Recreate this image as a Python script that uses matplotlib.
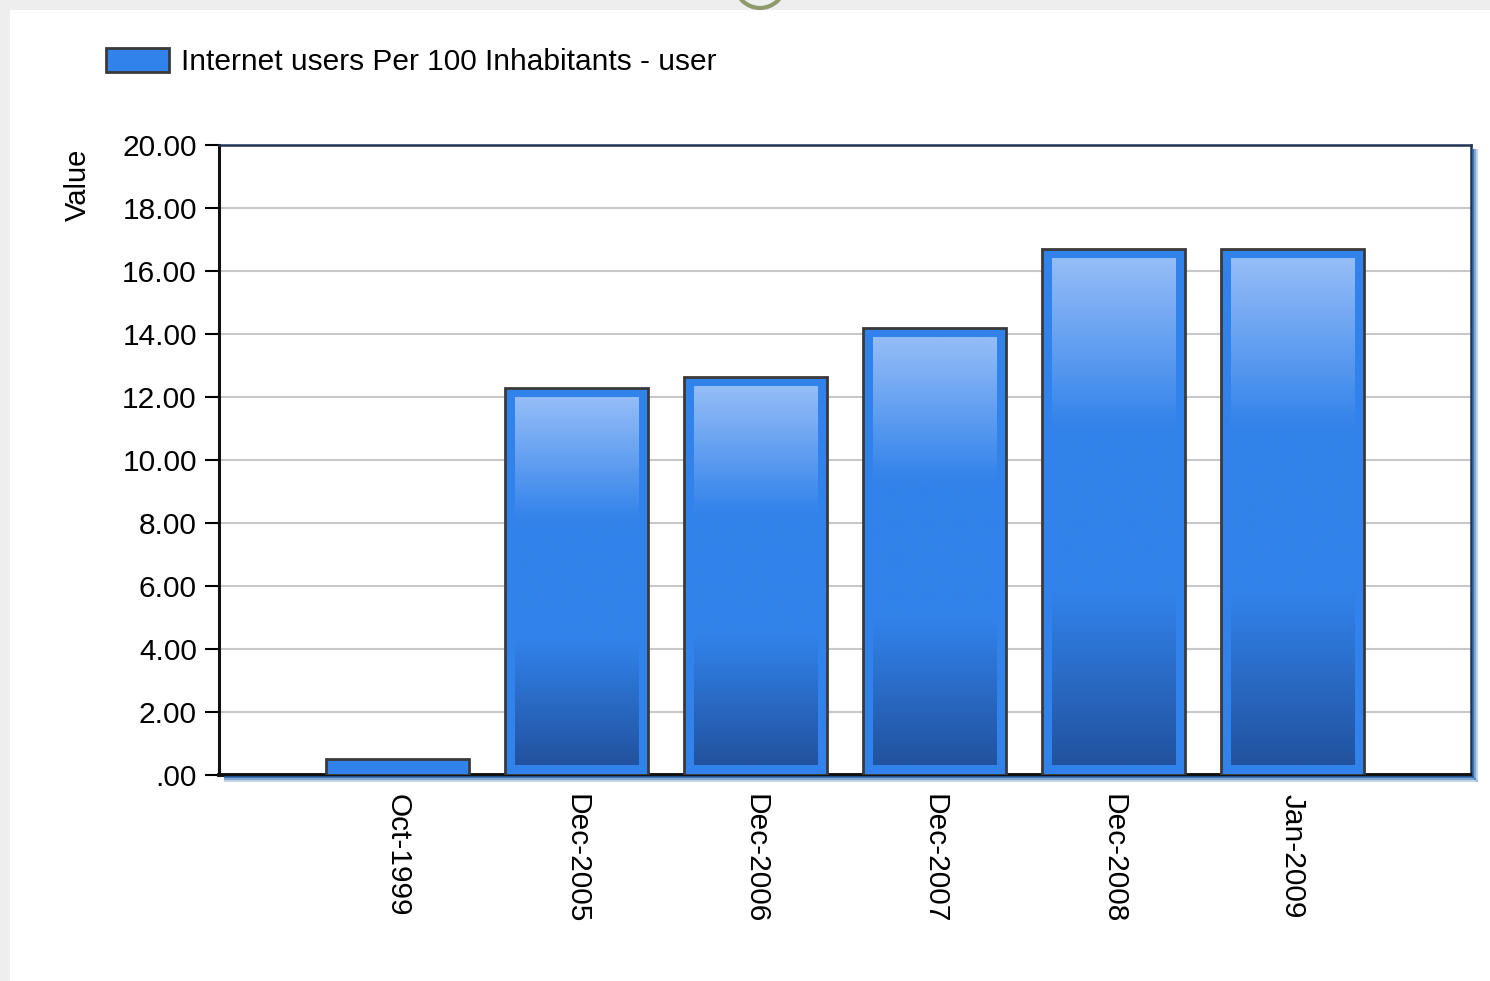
import numpy as np
import matplotlib
matplotlib.use("Agg")
import matplotlib.pyplot as plt
from matplotlib.patches import Rectangle, Patch, Ellipse
from matplotlib.lines import Line2D
from matplotlib.colors import to_rgb

# data
categories = ['Oct-1999', 'Dec-2005', 'Dec-2006', 'Dec-2007', 'Dec-2008', 'Jan-2009']
values = [0.5, 12.3, 12.65, 14.2, 16.7, 16.7]
series_name = 'Internet users Per 100 Inhabitants - user'
yticks = [0, 2, 4, 6, 8, 10, 12, 14, 16, 18, 20]

plt.rcParams['font.family'] = ['Liberation Sans', 'DejaVu Sans']

W, H = 1490, 981
fig = plt.figure(figsize=(W / 100, H / 100), dpi=100)
fig.patch.set_facecolor('white')

# screenshot frame on the left / top
fig.patches.append(Rectangle((0, 0), 10 / W, 1, transform=fig.transFigure,
                             facecolor='#eeeeee', edgecolor='none', zorder=0))
fig.patches.append(Rectangle((0, 1 - 10 / H), 1, 10 / H, transform=fig.transFigure,
                             facecolor='#eeeeee', edgecolor='none', zorder=0))
ring = Ellipse((760 / W, 1 + 17 / H), 50 / W, 50 / H, transform=fig.transFigure,
               facecolor='#eeeeee', edgecolor='#8f9a6c', lw=3, zorder=1)
fig.patches.append(ring)

ax = fig.add_axes([219 / W, 1 - 775 / H, (1471 - 219) / W, (775 - 145) / H])
ax.set_xlim(0, 7)
ax.set_ylim(0, 20)

x = np.arange(1, len(categories) + 1)
face = '#3182ea'
bars = ax.bar(x, values, width=0.8, color=face, edgecolor='#3a3a3a',
              linewidth=2, zorder=3)

# inner gradient, inset ~10 px from each bar edge
light = np.array(to_rgb('#93bcf7'))
mid = np.array(to_rgb(face))
dark = np.array(to_rgb('#2253a0'))
inv = ax.transData.inverted()
p0 = inv.transform((0, 0))
p1 = inv.transform((10, 10))
dx, dy = p1 - p0
n = 60
t = np.linspace(0, 1, n)  # 0 = top, 1 = bottom
grad = np.zeros((n, 1, 3))
for i, s in enumerate(t):
    if s < 1 / 3:
        f = s * 3
        grad[i, 0] = light * (1 - f) + mid * f
    elif s < 2 / 3:
        grad[i, 0] = mid
    else:
        f = (s - 2 / 3) * 3
        grad[i, 0] = mid * (1 - f) + dark * f
for b in bars:
    x0, w, h = b.get_x(), b.get_width(), b.get_height()
    if h > 3 * dy:
        ax.imshow(grad, extent=(x0 + dx, x0 + w - dx, dy, h - dy),
                  aspect='auto', origin='upper', zorder=4, interpolation='bilinear')
ax.set_xlim(0, 7)
ax.set_ylim(0, 20)

ax.set_yticks(yticks)
ylabels = []
for v in yticks:
    s = f'{v:.2f}'
    if s.startswith('0'):
        s = s[1:]
    ylabels.append(s)
ax.set_yticklabels(ylabels)
ax.set_xticks(x)
ax.set_xticklabels(categories, rotation=270, va='top', ha='center')
ax.tick_params(axis='y', length=10, width=1.5, pad=6, labelsize=21.5, colors='black')
ax.tick_params(axis='x', length=0, pad=14, labelsize=21.5)

ax.grid(axis='y', color='#c8c8c8', linewidth=1.5, zorder=0)
ax.set_axisbelow(True)

for side in ['top', 'right']:
    ax.spines[side].set_color('#1f3355')
    ax.spines[side].set_linewidth(1.8)
ax.spines['left'].set_color('#111111')
ax.spines['left'].set_linewidth(2.2)
ax.spines['bottom'].set_color('#111111')
ax.spines['bottom'].set_linewidth(2.8)

# soft blue shadow on right and bottom of the plot frame
for k, a in [(2, 0.85), (4, 0.55), (6, 0.25)]:
    fig.lines.append(Line2D([(1471 + k) / W] * 2, [1 - 150 / H, 1 - (775 + k) / H],
                            transform=fig.transFigure, color='#1f5fa8', alpha=a, lw=1.5))
    fig.lines.append(Line2D([225 / W, (1471 + k) / W], [1 - (775 + k) / H] * 2,
                            transform=fig.transFigure, color='#1f5fa8', alpha=a, lw=1.5))

fig.text(78 / W, 1 - 185 / H, 'Value', rotation=90, ha='center', va='center', fontsize=21)

handle = Patch(facecolor=face, edgecolor='#3a3a3a', linewidth=2)
fig.legend([handle], [series_name], loc='center left',
           bbox_to_anchor=(106 / W, 1 - 62 / H), frameon=False, fontsize=21.5,
           handlelength=2.1, handleheight=0.85, handletextpad=0.4, borderpad=0,
           borderaxespad=0)

fig.savefig('out.png', dpi=100)
